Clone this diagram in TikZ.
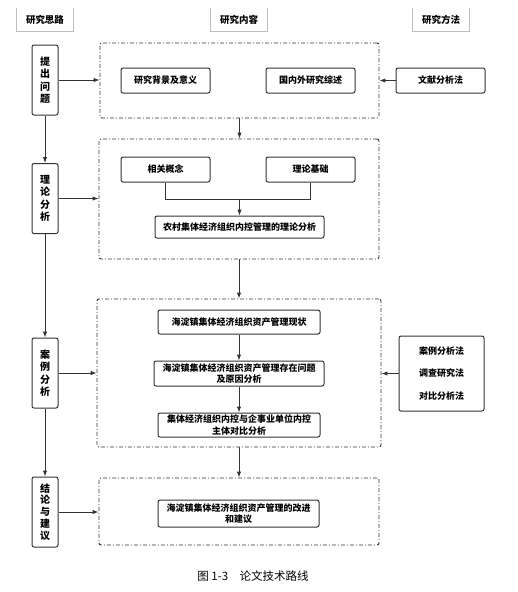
\documentclass[tikz,border=0pt]{standalone}
\usepackage{fontspec}
\newfontfamily\cjk{Noto Sans CJK SC}
\usepackage{tikz}
\usetikzlibrary{arrows.meta,calc}
\tikzset{
  tr head/.style={
    minimum width=56pt,
    minimum height=23pt,
    font=\cjk\bfseries\fontsize{9.5}{11}\selectfont,
    inner sep=0pt,
  },
  tr phase/.style={
    rectangle,
    rounded corners=2pt,
    line width=1pt,
    draw=black!80,
    minimum width=26pt,
    minimum height=70pt,
    align=center,
    font=\cjk\bfseries\fontsize{10}{12.5}\selectfont,
    inner sep=1pt,
  },
  tr group/.style={
    rectangle,
    rounded corners=2pt,
    line width=0.9pt,
    draw=black!80,
    dash pattern=on 4pt off 2pt on 1pt off 2pt,
    inner sep=0pt,
  },
  tr item/.style={
    rectangle,
    rounded corners=2pt,
    line width=1pt,
    draw=black!80,
    minimum height=25pt,
    align=center,
    font=\cjk\bfseries\fontsize{9}{11.5}\selectfont,
    inner sep=1pt,
  },
  tr arrow/.style={-{Latex[length=6pt,width=4.5pt]}, line width=1pt, black!80},
  tr line/.style={line width=1pt, black!80},
  tr edge/.style={line width=0.8pt, black!25},
}

\begin{document}
\begin{tikzpicture}[x=1pt,y=-1pt]
  \useasboundingbox (0,0) rectangle (518,592);
  % column heads
  \node[tr head] (h1) at (45,19.5) {研究思路};
  \node[tr head] (h2) at (239,19.5) {研究内容};
  \node[tr head] (h3) at (441,19.5) {研究方法};
  \foreach \h in {h1,h2,h3}
    \draw[tr edge] (\h.north west) -- (\h.south west) -- (\h.south east) -- (\h.north east);

  % stages
  \node[tr phase] (p1) at (45,80) {提\\出\\问\\题};
  \node[tr phase] (p2) at (45,198.5) {理\\论\\分\\析};
  \node[tr phase] (p3) at (45,373) {案\\例\\分\\析};
  \node[tr phase,font=\cjk\bfseries\fontsize{10}{11.8}\selectfont] (p4) at (45,512) {结\\论\\与\\建\\议};

  % content groups
  \node[tr group,minimum width=279pt,minimum height=75pt] (c1) at (239.5,80.5) {};
  \node[tr group,minimum width=280pt,minimum height=120pt] (c2) at (239,199) {};
  \node[tr group,minimum width=284pt,minimum height=148pt] (c3) at (239,373) {};
  \node[tr group,minimum width=280pt,minimum height=67pt] (c4) at (239,511.5) {};

  \node[tr item,minimum width=89pt] (bg) at (165.5,80.5) {研究背景及意义};
  \node[tr item,minimum width=89pt] (lit) at (310.5,80.5) {国内外研究综述};
  \node[tr item,minimum width=89pt] (con) at (165.5,169.5) {相关概念};
  \node[tr item,minimum width=89pt] (base) at (310.5,169.5) {理论基础};
  \node[tr item,minimum width=169pt,minimum height=22pt] (theo) at (239.5,227) {农村集体经济组织内控管理的理论分析};
  \node[tr item,minimum width=162pt,minimum height=24pt] (now) at (239,322) {海淀镇集体经济组织资产管理现状};
  \node[tr item,minimum width=170pt] (why) at (239,373.5) {海淀镇集体经济组织资产管理存在问题\\及原因分析};
  \node[tr item,minimum width=162pt,minimum height=24pt] (cmp) at (239,425) {集体经济组织内控与企事业单位内控\\主体对比分析};
  \node[tr item,minimum width=161pt,minimum height=27pt] (adv) at (238.5,513.5) {海淀镇集体经济组织资产管理的改进\\和建议};

  % methods
  \node[tr item,minimum width=89pt] (m1) at (440.5,80.5) {文献分析法};
  \node[tr item,minimum width=85pt,minimum height=75pt,font=\cjk\bfseries\fontsize{9}{22.5}\selectfont] (m2) at (441.5,373.5) {案例分析法\\调查研究法\\对比分析法};

  % left spine
  \draw[tr arrow] (p1) -- (p2);
  \draw[tr arrow] (p2) -- (p3);
  \draw[tr arrow] (p3) -- (p4);
  \draw[tr arrow] (p1.east) -- (p1.east -| c1.west);
  \draw[tr arrow] (p2.east) -- (p2.east -| c2.west);
  \draw[tr arrow] (p3.east) -- (p3.east -| c3.west);
  \draw[tr arrow] (p4.east) -- (p4.east -| c4.west);

  % main flow
  \draw[tr arrow] (c1.south) -- (c1.south |- c2.north);
  \draw[tr arrow] (c2.south) -- (c2.south |- c3.north);
  \draw[tr arrow] (c3.south) -- (c3.south |- c4.north);
  \coordinate (j) at ($(theo.north)+(0,-16)$);
  \draw[tr line] (con.south) |- (j) -| (base.south);
  \draw[tr arrow] (j) -- (theo.north);
  \draw[tr arrow] (now) -- (why);
  \draw[tr arrow] (why) -- (cmp);

  % methods in
  \draw[tr arrow] (m1.west) -- (m1.west -| c1.east);
  \draw[tr arrow] (m2.west) -- (m2.west -| c3.east);

  \node[font=\cjk\fontsize{11.5}{13}\selectfont] (cap) at (253,576) {图 1-3\quad 论文技术路线};
\end{tikzpicture}
\end{document}
